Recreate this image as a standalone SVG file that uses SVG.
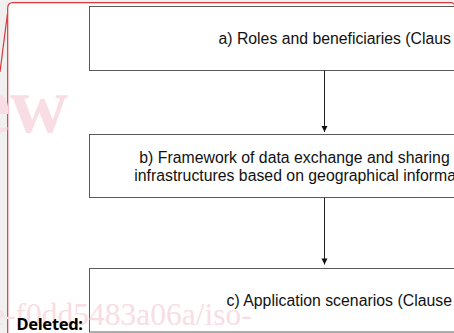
<svg xmlns="http://www.w3.org/2000/svg" width="454" height="333" viewBox="0 0 454 333">
  <style>
    .box { fill: #ffffff; stroke: #5a5a5a; stroke-width: 1; }
    .lbl { font-family: "Liberation Sans", Arial, sans-serif; font-size: 15.8px; fill: #111111; }
    .wm { font-family: "Liberation Serif", "Times New Roman", serif; fill: #f8dde4; }
    .conn { stroke: #222222; stroke-width: 1; fill: none; marker-end: url(#arr); }
    .red { stroke: #d9383a; stroke-width: 1.2; fill: none; }
  </style>
  <defs>
    <marker id="arr" markerWidth="7" markerHeight="7" refX="6.5" refY="3.5" orient="auto" markerUnits="userSpaceOnUse" viewBox="0 0 7 7">
      <path d="M0.5,0.5 L6.5,3.5 L0.5,6.5 Z" fill="#111111"/>
    </marker>
  </defs>
  <!-- page background -->
  <rect x="0" y="0" width="454" height="333" fill="#f0f0f0"/>
  <path d="M7.7,333 L7.7,8 Q7.7,2.7 13,2.7 L451,2.7 Q453,2.7 454,4 L454,333 Z" fill="#ffffff"/>
  <path class="red" d="M7.7,333 L7.7,8 Q7.7,2.7 13,2.7 L451,2.7 Q453,2.7 454,4.5"/>
  <path class="red" d="M0,72 L7.4,14"/>
  <!-- watermark -->
  <text class="wm" x="68" y="131.5" font-size="80" font-weight="bold" text-anchor="end">ew</text>

  <g id="node-a">
    <rect class="box" x="89.5" y="6.5" width="400" height="64"/>
    <text class="lbl" x="218.5" y="43.7" textLength="232.5">a) Roles and beneficiaries (Claus</text>
  </g>
  <g id="node-b">
    <rect class="box" x="89.5" y="134.5" width="400" height="63"/>
    <text class="lbl" x="139.3" y="163" textLength="310.4">b) Framework of data exchange and sharing</text>
    <text class="lbl" x="134.3" y="181" textLength="321.7">infrastructures based on geographical informa</text>
  </g>
  <g id="node-c">
    <rect class="box" x="89.5" y="268.5" width="400" height="63.5"/>
    <text class="lbl" x="226.5" y="306" textLength="225.5">c) Application scenarios (Clause</text>
  </g>
  <g id="connectors">
    <line class="conn" x1="324.5" y1="70.5" x2="324.5" y2="132"/>
    <line class="conn" x1="324.5" y1="197.5" x2="324.5" y2="264.5"/>
  </g>
  <text class="wm" x="-9" y="324.5" font-size="31.5">e-f0dd5483a06a/iso-</text>
  <text x="16.5" y="329.5" font-family="'Noto Sans', 'Open Sans', sans-serif" font-weight="bold" font-size="16.5" textLength="66.5" fill="#000000">Deleted:</text>
</svg>
